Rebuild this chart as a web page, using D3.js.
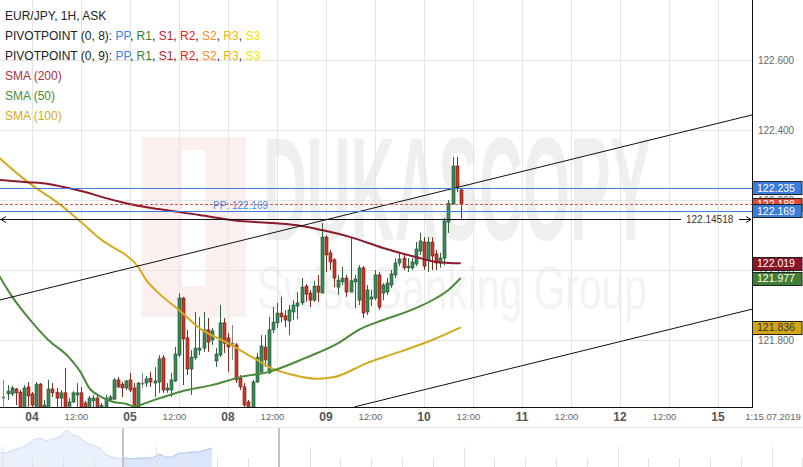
<!DOCTYPE html>
<html><head><meta charset="utf-8">
<script src="https://cdn.jsdelivr.net/npm/d3@7"></script>
<style>
html,body{margin:0;padding:0;background:#fff;}
svg{display:block;font-family:"Liberation Sans",Arial,sans-serif;}
</style></head><body>
<svg id="chart" width="803" height="467"></svg>
<script>
// ---------- DATA ----------
const openP = [121.637,121.646,121.646,121.660,121.651,121.604,121.666,121.646,121.604,121.674,
121.604,121.604,121.660,121.651,121.634,121.649,121.611,121.623,121.643,121.649,
121.620,121.604,121.626,121.634,121.604,121.604,121.629,121.631,121.686,121.674,
121.663,121.686,121.663,121.604,121.677,121.677,121.691,121.677,121.680,121.749,
121.657,121.657,121.683,121.757,121.920,121.806,121.717,121.749,121.771,121.777,
121.829,121.800,121.740,121.757,121.849,121.806,121.791,121.786,121.691,121.666,
121.623,121.604,121.680,121.709,121.780,121.706,121.829,121.849,121.877,121.869,
121.854,121.880,121.897,121.906,121.954,121.934,121.914,121.954,121.934,122.094,
122.049,122.029,121.951,121.966,121.977,121.937,121.966,121.914,122.006,121.880,
121.917,121.920,121.986,121.934,121.937,121.957,121.986,122.020,122.034,122.006,
122.006,122.017,122.054,122.080,122.029,122.080,122.046,122.020,122.034,122.137,
122.189,122.297,122.229];
const highP = [121.686,121.671,121.669,121.663,121.657,121.671,121.680,121.651,121.680,121.677,
121.629,121.686,121.677,121.663,121.657,121.720,121.634,121.654,121.677,121.666,
121.626,121.640,121.643,121.640,121.620,121.643,121.643,121.691,121.694,121.680,
121.686,121.706,121.677,121.680,121.706,121.697,121.709,121.723,121.757,121.757,
121.677,121.706,121.780,121.934,121.923,121.829,121.771,121.880,121.866,121.880,
121.863,121.834,121.777,121.900,121.863,121.820,121.843,121.791,121.700,121.677,
121.629,121.686,121.763,121.814,121.814,121.866,121.894,121.906,121.923,121.886,
121.900,121.914,121.937,121.977,121.960,121.943,121.969,121.986,122.134,122.100,
122.057,122.034,121.986,122.009,121.986,122.094,121.986,122.014,122.011,121.957,
121.943,122.000,121.994,121.963,121.977,122.000,122.034,122.051,122.043,122.034,
122.034,122.080,122.106,122.094,122.094,122.094,122.057,122.049,122.149,122.200,
122.323,122.323,122.231];
const lowP = [121.600,121.629,121.640,121.614,121.598,121.598,121.600,121.600,121.598,121.598,
121.600,121.598,121.637,121.600,121.600,121.598,121.600,121.620,121.600,121.598,
121.598,121.598,121.600,121.598,121.598,121.598,121.623,121.629,121.663,121.637,
121.657,121.651,121.598,121.598,121.663,121.666,121.666,121.637,121.649,121.649,
121.649,121.637,121.680,121.751,121.671,121.700,121.643,121.743,121.757,121.766,
121.766,121.786,121.723,121.751,121.763,121.709,121.743,121.677,121.657,121.600,
121.598,121.598,121.677,121.706,121.723,121.703,121.820,121.834,121.851,121.837,
121.814,121.857,121.860,121.900,121.909,121.894,121.909,121.909,121.934,121.994,
122.000,121.951,121.929,121.957,121.923,121.937,121.891,121.900,121.863,121.871,
121.897,121.914,121.886,121.914,121.929,121.949,121.977,122.011,122.000,121.994,
122.000,122.011,122.043,122.000,121.994,122.000,122.000,122.006,122.014,122.106,
122.186,122.223,122.146];
const closeP = [121.637,121.654,121.663,121.649,121.604,121.663,121.640,121.614,121.674,121.604,
121.614,121.660,121.649,121.634,121.649,121.604,121.623,121.649,121.649,121.604,
121.604,121.634,121.634,121.604,121.614,121.634,121.637,121.686,121.666,121.663,
121.683,121.657,121.604,121.677,121.677,121.689,121.680,121.683,121.746,121.657,
121.663,121.686,121.760,121.920,121.803,121.717,121.751,121.777,121.777,121.829,
121.794,121.826,121.760,121.849,121.791,121.780,121.791,121.686,121.666,121.614,
121.604,121.680,121.751,121.783,121.743,121.829,121.851,121.877,121.866,121.857,
121.886,121.900,121.906,121.951,121.931,121.914,121.954,121.937,122.094,122.043,
122.023,121.977,121.971,121.977,121.937,121.969,121.974,122.006,121.877,121.943,
121.923,121.986,121.894,121.957,121.963,121.989,122.020,122.031,122.006,122.011,
122.023,122.060,122.083,122.011,122.080,122.040,122.020,122.034,122.140,122.191,
122.297,122.237,122.188];

// moving averages sampled at candle indices
const sma200Idx = [-1,6,11,16,20,24,30,38,48,58,66,73,78,85,93,101,106,112];
const sma200Val = [122.257,122.251,122.246,122.234,122.223,122.209,122.191,122.174,122.157,122.140,122.134,122.126,122.114,122.094,122.063,122.037,122.023,122.019];
const sma50Idx = [-1,2,7,11,16,19,21,24,27,30,32,37,45,51,58,65,74,82,87,93,101,106,109,112];
const sma50Val = [121.983,121.926,121.851,121.800,121.751,121.706,121.663,121.637,121.623,121.618,121.611,121.629,121.657,121.671,121.694,121.709,121.749,121.791,121.829,121.857,121.891,121.920,121.943,121.977];
const sma100Idx = [-1,6,14,19,24,28,30,33,35,38,43,48,55,60,63,65,71,77,81,89,97,105,112];
const sma100Val = [122.320,122.251,122.186,122.137,122.086,122.057,122.043,122.009,121.971,121.934,121.886,121.834,121.791,121.757,121.737,121.723,121.700,121.689,121.694,121.734,121.766,121.800,121.836];

// channel lines [index, price]
const channelUpper = [[-1,121.914],[184,122.445]];
const channelLower = [[86,121.609],[184,121.890]];

// horizontal levels
const ppLevel1 = 122.235;
const ppLevel2 = 122.169;
const askLevel = 122.188;
const hLineLevel = 122.14518;

// axes
const yTicks = [122.6,122.4,122.2,122.0,121.8];
const dayLabels = ["04","05","08","09","10","11","12","15"];
const dayIdx = [7,31,55,79,103,127,151,175];
const halfIdx = [19,43,67,91,115,139,163];
const lastLabel = "1:15.07.2019";

// navigator profile
const navValues = [15,14,17,19,22,27,29,26,28,30,37,32,30,24,22,19,12,10,8,9,8,9,9,9,13,10,10,14,14,15,15,17,19];

// price tags
const tags = [
  {v:122.235, fill:"#3b7ddd", text:"#fff"},
  {v:122.188, fill:"#e0493a", text:"#fff"},
  {v:122.169, fill:"#3b7ddd", text:"#fff"},
  {v:122.019, fill:"#8b1426", text:"#fff"},
  {v:121.977, fill:"#3f7f33", text:"#fff"},
  {v:121.836, fill:"#d6a514", text:"#333"}
];

// ---------- DRAW ----------
const W = 752, H = 407;
const svg = d3.select("#chart");
const x = d3.scaleLinear().domain([-0.84, 183.33]).range([0, W]);
const y = d3.scaleLinear().domain([121.8, 122.6]).range([340, 60]);

svg.append("defs").append("clipPath").attr("id","plotclip")
  .append("rect").attr("x",0).attr("y",0).attr("width",W).attr("height",H);

// watermark
const wm = svg.append("g");
wm.append("rect").attr("x",142).attr("y",137).attr("width",104).attr("height",180).attr("fill","#fcefef");
wm.append("rect").attr("x",182).attr("y",150).attr("width",23).attr("height",136).attr("fill","#ffffff");
wm.append("text").attr("x",263).attr("y",240).attr("font-size",146).attr("font-weight","bold")
  .attr("textLength",388).attr("lengthAdjust","spacingAndGlyphs")
  .attr("fill","#efefef").text("DUKASCOPY");
wm.append("text").attr("x",257).attr("y",309).attr("font-size",62)
  .attr("textLength",390).attr("lengthAdjust","spacingAndGlyphs")
  .attr("fill","#f3f3f3").text("Swiss Banking Group");

// grid
const grid = svg.append("g").attr("stroke","#e4e4e4").attr("stroke-width",1);
dayIdx.concat(halfIdx).forEach(i=>{
  const xx = Math.round(x(i))+0.5;
  grid.append("line").attr("x1",xx).attr("x2",xx).attr("y1",0).attr("y2",H);
});
yTicks.forEach(v=>{
  const yy = Math.round(y(v))+0.5;
  grid.append("line").attr("x1",0).attr("x2",W).attr("y1",yy).attr("y2",yy);
});

const plot = svg.append("g").attr("clip-path","url(#plotclip)");

// candles
const candles = openP.map((o,i)=>({i,o,h:highP[i],l:lowP[i],c:closeP[i]}));
candles.forEach(d=>{
  const up = d.c > d.o, flat = d.c === d.o;
  const wick = flat ? "#888" : (up ? "#2c6a3e" : "#8a2a1e");
  const fill = flat ? "#888" : (up ? "#3a8a58" : "#c8392b");
  const stroke = flat ? "#777" : (up ? "#1d4a2c" : "#6a1a10");
  const cx = Math.round(x(d.i))+0.5;
  plot.append("line").attr("x1",cx).attr("x2",cx).attr("y1",y(d.h)).attr("y2",y(d.l))
    .attr("stroke",wick).attr("stroke-width",1);
  const top = y(Math.max(d.o,d.c)), bot = y(Math.min(d.o,d.c));
  plot.append("rect").attr("x",cx-1.5).attr("y",top).attr("width",3)
    .attr("height",Math.max(1,bot-top)).attr("fill",fill).attr("stroke",stroke).attr("stroke-width",0.6);
});

// moving averages
const line = d3.line().x(d=>x(d[0])).y(d=>y(d[1])).curve(d3.curveMonotoneX);
function drawSMA(idx, vals, color){
  plot.append("path").datum(idx.map((k,j)=>[k,vals[j]]))
    .attr("d",line).attr("fill","none").attr("stroke",color).attr("stroke-width",2);
}
drawSMA(sma100Idx, sma100Val, "#d4aa1e");
drawSMA(sma50Idx, sma50Val, "#4a8a3c");
drawSMA(sma200Idx, sma200Val, "#8b1a2b");

// channel lines
const lin = d3.line().x(d=>x(d[0])).y(d=>y(d[1]));
plot.append("path").datum(channelUpper).attr("d",lin).attr("stroke","#111").attr("stroke-width",1).attr("fill","none");
plot.append("path").datum(channelLower).attr("d",lin).attr("stroke","#111").attr("stroke-width",1).attr("fill","none");

// horizontal levels
function hline(v, color, dash){
  const yy = Math.round(y(v))+0.5;
  const l = plot.append("line").attr("x1",0).attr("x2",W).attr("y1",yy).attr("y2",yy)
    .attr("stroke",color).attr("stroke-width",1);
  if (dash) l.attr("stroke-dasharray",dash);
}
hline(ppLevel1, "#3b7ddd");
hline(askLevel, "#d9534f", "3,2");
hline(ppLevel2, "#3b7ddd");
svg.append("text").attr("x",213).attr("y",Math.round(y(ppLevel2))-2).attr("font-size",10)
  .attr("fill","#4a8ae6").text("PP: " + ppLevel2.toFixed(3));

// arrow line 122.14518
const yh = Math.round(y(hLineLevel))+0.5;
const ar = svg.append("g").attr("stroke","#111").attr("stroke-width",1).attr("fill","none");
ar.append("line").attr("x1",0).attr("x2",681).attr("y1",yh).attr("y2",yh);
ar.append("path").attr("d",`M6,${yh-3} L1,${yh} L6,${yh+3}`);
ar.append("line").attr("x1",739).attr("x2",751).attr("y1",yh).attr("y2",yh);
ar.append("path").attr("d",`M746,${yh-3} L751,${yh} L746,${yh+3}`);
svg.append("text").attr("x",686).attr("y",yh+3.5).attr("font-size",10).attr("fill","#333")
  .text(String(hLineLevel));

// axes lines
svg.append("line").attr("x1",W+0.5).attr("x2",W+0.5).attr("y1",0).attr("y2",H+1).attr("stroke","#111").attr("stroke-width",1);
svg.append("line").attr("x1",0).attr("x2",W+1).attr("y1",H+0.5).attr("y2",H+0.5).attr("stroke","#111").attr("stroke-width",1);

// y labels
yTicks.forEach(v=>{
  svg.append("text").attr("x",758).attr("y",y(v)+3.5).attr("font-size",10).attr("fill","#666").text(v.toFixed(3));
});

// price tags
tags.forEach(t=>{
  const yy = y(t.v);
  svg.append("rect").attr("x",W+0.5).attr("y",Math.round(yy-6.5)+0.5).attr("width",49.5).attr("height",13)
    .attr("fill",t.fill).attr("stroke","#222").attr("stroke-width",1);
  svg.append("text").attr("x",757).attr("y",Math.round(yy)+4).attr("font-size",10.5).attr("fill",t.text).text(t.v.toFixed(3));
});

// x labels
dayIdx.forEach((i,k)=>{
  svg.append("text").attr("x",x(i)).attr("y",421).attr("text-anchor","middle").attr("font-size",12)
    .attr("font-weight","bold").attr("fill","#555").text(dayLabels[k]);
});
halfIdx.forEach(i=>{
  svg.append("text").attr("x",x(i)-4.5).attr("y",420).attr("text-anchor","middle").attr("font-size",9.5)
    .attr("fill","#666").text("12:00");
});
svg.append("text").attr("x",773).attr("y",420).attr("text-anchor","middle").attr("font-size",9.5)
  .attr("fill","#666").text(lastLabel);

// navigator
svg.append("line").attr("x1",0).attr("x2",803).attr("y1",427.5).attr("y2",427.5).attr("stroke","#ececec");
const nx = d3.scaleLinear().domain([0, navValues.length-1]).range([0, 212]);
const ny = d3.scaleLinear().domain([0, 40]).range([467, 427]);
const nArea = d3.area().x((d,i)=>nx(i)).y0(467).y1(d=>ny(d));
const nLine = d3.line().x((d,i)=>nx(i)).y(d=>ny(d));
const defs = svg.select("defs");
defs.append("clipPath").attr("id","navA").append("rect").attr("x",0).attr("y",427).attr("width",123).attr("height",40);
defs.append("clipPath").attr("id","navB").append("rect").attr("x",123).attr("y",427).attr("width",100).attr("height",40);
svg.append("path").datum(navValues).attr("d",nArea).attr("fill","#ebf1fc").attr("clip-path","url(#navA)");
svg.append("path").datum(navValues).attr("d",nLine).attr("fill","none").attr("stroke","#cadaf6").attr("clip-path","url(#navA)");
svg.append("path").datum(navValues).attr("d",nArea).attr("fill","#dbe6fb").attr("clip-path","url(#navB)");
svg.append("path").datum(navValues).attr("d",nLine).attr("fill","none").attr("stroke","#a9c3f1").attr("clip-path","url(#navB)");
d3.range(0,27).forEach(k=>{
  const xx = Math.round(1.5 + k*30.8)+0.5;
  const tall = k%5===0;
  svg.append("line").attr("x1",xx).attr("x2",xx).attr("y1",tall?447:458).attr("y2",467)
    .attr("stroke","#e2e2e2").attr("stroke-width",1);
});
[123,279].forEach(xx=>{
  svg.append("line").attr("x1",xx).attr("x2",xx).attr("y1",428).attr("y2",467).attr("stroke","#c4c4c4").attr("stroke-width",2);
});

// legend
const legend = svg.append("g").attr("font-size",12);
legend.append("text").attr("x",5).attr("y",20).attr("fill","#222").text("EUR/JPY, 1H, ASK");
const pivCols = [["PP","#3b82f0"],["R1","#3a7d2a"],["S1","#b8262a"],["R2","#ee2020"],["S2","#ff8a1c"],["R3","#f2b705"],["S3","#f2e600"]];
["PIVOTPOINT (0, 8): ","PIVOTPOINT (0, 9): "].forEach((lbl,r)=>{
  const t = legend.append("text").attr("x",5).attr("y",40+20*r).attr("fill","#222");
  t.append("tspan").text(lbl);
  pivCols.forEach((p,j)=>{
    t.append("tspan").attr("fill",p[1]).text(p[0]);
    if (j<pivCols.length-1) t.append("tspan").attr("fill","#222").text(", ");
  });
});
legend.append("text").attr("x",5).attr("y",80).attr("fill","#a83240").text("SMA (200)");
legend.append("text").attr("x",5).attr("y",100).attr("fill","#4a8a3c").text("SMA (50)");
legend.append("text").attr("x",5).attr("y",120).attr("fill","#d4aa1e").text("SMA (100)");
</script>
</body></html>
